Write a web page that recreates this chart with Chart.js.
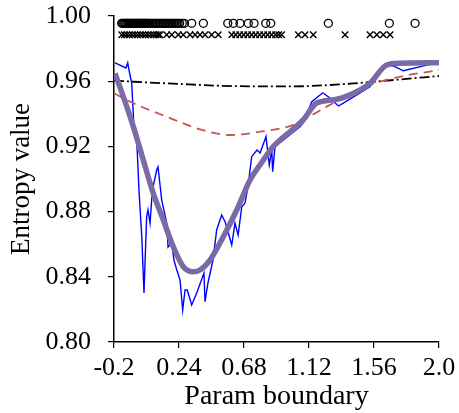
<!DOCTYPE html>
<html>
<head>
<meta charset="utf-8">
<script src="https://cdn.jsdelivr.net/npm/chart.js@4.4.1/dist/chart.umd.min.js"></script>
<style>
  html, body { margin: 0; padding: 0; background: #fff; }
  #wrap { width: 459px; height: 413px; }
</style>
</head>
<body>
<div id="wrap"><canvas id="chart" width="459" height="413"></canvas></div>
<script>
// Tick positions and labels
const xTicks = [-0.2, 0.24, 0.68, 1.12, 1.56, 2.0];
const xTickLabels = ['-0.2', '0.24', '0.68', '1.12', '1.56', '2.0'];
const yTicks = [0.80, 0.84, 0.88, 0.92, 0.96, 1.00];
const yTickLabels = ['0.80', '0.84', '0.88', '0.92', '0.96', '1.00'];

// Raw entropy curve (blue)
const rawX = [-0.193, -0.119, -0.107, -0.092, -0.080, -0.065, -0.051, -0.042, -0.031, -0.012,
  0.003, 0.021, 0.030, 0.044, 0.055, 0.064, 0.089, 0.098, 0.123, 0.157,
  0.166, 0.191, 0.206, 0.225, 0.247, 0.265, 0.281, 0.296, 0.326, 0.360,
  0.409, 0.416, 0.436, 0.470, 0.495, 0.529, 0.552, 0.597, 0.619, 0.640,
  0.665, 0.687, 0.707, 0.732, 0.768, 0.789, 0.829, 0.851, 0.868, 0.874,
  0.890, 1.059, 1.080, 1.139, 1.213, 1.262, 1.319, 1.352, 1.466, 1.533,
  1.556, 1.635, 1.702, 1.759, 1.917, 2.0];
const rawY = [0.9713, 0.9681, 0.9713, 0.9638, 0.9589, 0.9319, 0.9301, 0.9160, 0.8933, 0.8646,
  0.8301, 0.8769, 0.8810, 0.8730, 0.8871, 0.8951, 0.9055, 0.9074, 0.8871, 0.8730,
  0.8583, 0.8607, 0.8503, 0.8442, 0.8380, 0.8196, 0.8319, 0.8319, 0.8227, 0.8301,
  0.8423, 0.8247, 0.8362, 0.8503, 0.8687, 0.8779, 0.8738, 0.8595, 0.8730, 0.8656,
  0.8830, 0.8853, 0.8953, 0.9137, 0.9178, 0.9160, 0.9260, 0.9086, 0.9178, 0.9045,
  0.9198, 0.9321, 0.9344, 0.9474, 0.9529, 0.9497, 0.9448, 0.9466, 0.9528, 0.9566,
  0.9597, 0.9706, 0.9689, 0.9664, 0.9699, 0.9713];

// Smoothed curve (purple)
const smoothX = [-0.193, -0.137, -0.069, -0.002, 0.066, 0.134, 0.201, 0.269, 0.337, 0.382,
  0.450, 0.540, 0.631, 0.721, 0.788, 0.877, 0.924, 1.080, 1.172, 1.308,
  1.466, 1.533, 1.646, 1.736, 2.0];
const smoothY = [0.9648, 0.9505, 0.9321, 0.9117, 0.8912, 0.8748, 0.8585, 0.8462, 0.8431, 0.8442,
  0.8503, 0.8646, 0.8810, 0.8994, 0.9086, 0.9198, 0.9239, 0.9362, 0.9466, 0.9489,
  0.9546, 0.9587, 0.9699, 0.9710, 0.9713];

// Quadratic fit (red dashed)
const fitX = [-0.2, -0.07, 0.157, 0.382, 0.585, 0.788, 1.01, 1.24, 1.47, 1.69, 2.0];
const fitY = [0.9526, 0.9466, 0.9382, 0.9305, 0.9270, 0.9290, 0.9331, 0.9444, 0.9556, 0.9618, 0.9669];

// Baseline (black dash-dot)
const baseX = [-0.2, 0.2, 0.6, 1.0, 1.4, 1.7, 2.0];
const baseY = [0.9603, 0.9585, 0.9570, 0.9568, 0.9585, 0.9608, 0.9632];

// Marker rows along the top
const circleX = [-0.148, -0.141, -0.134, -0.127, -0.120, -0.113, -0.106, -0.099, -0.092, -0.085,
  -0.078, -0.071, -0.064, -0.057, -0.050, -0.043, -0.036, -0.029, -0.022, -0.015,
  -0.008, -0.001, 0.006, 0.013, 0.020, 0.027, 0.034, 0.044, 0.054, 0.064,
  0.074, 0.084, 0.094, 0.104, 0.114, 0.124, 0.134, 0.144, 0.154, 0.164,
  0.174, 0.184, 0.194, 0.204, 0.214, 0.224, 0.234, 0.244, 0.262, 0.276,
  0.326, 0.405, 0.570, 0.608, 0.653, 0.709, 0.748, 0.827, 0.861, 1.251,
  1.664, 1.838];
const circleY = 0.9955;
const crossX = [-0.148, -0.130, -0.112, -0.094, -0.076, -0.058, -0.040, -0.022, -0.004, 0.014,
  0.032, 0.050, 0.068, 0.086, 0.100, 0.111, 0.157, 0.191, 0.235, 0.269,
  0.315, 0.349, 0.382, 0.416, 0.461, 0.506, 0.597, 0.624, 0.651, 0.678,
  0.705, 0.732, 0.759, 0.786, 0.813, 0.840, 0.867, 0.894, 0.915, 0.935,
  1.048, 1.093, 1.149, 1.364, 1.533, 1.579, 1.623, 1.669];
const crossY = 0.9885;

const pts = (xs, ys) => xs.map((x, i) => ({ x, y: Array.isArray(ys) ? ys[i] : ys }));

const serif = "'Liberation Serif', 'Times New Roman', 'DejaVu Serif', serif";

// keep the plot box fixed: no extra room for edge labels
function noEdgePad(s) {
  s.paddingTop = 0; s.paddingBottom = 0; s.paddingLeft = 0; s.paddingRight = 0;
}

new Chart(document.getElementById('chart'), {
  type: 'scatter',
  data: {
    datasets: [
      { data: pts(circleX, circleY), showLine: false, pointStyle: 'circle', pointRadius: 4,
        borderColor: '#000', borderWidth: 1.3, backgroundColor: 'rgba(0,0,0,0)', order: 0 },
      { data: pts(crossX, crossY), showLine: false, pointStyle: 'crossRot', pointRadius: 4.5,
        borderColor: '#000', borderWidth: 1.4, order: 1 },
      { data: pts(smoothX, smoothY), showLine: true, borderColor: '#7b6aa5', borderWidth: 5.5,
        pointRadius: 0, cubicInterpolationMode: 'monotone', order: 2 },
      { data: pts(fitX, fitY), showLine: true, borderColor: '#c4574e', borderWidth: 1.8,
        borderDash: [9, 6], pointRadius: 0, cubicInterpolationMode: 'monotone', order: 3 },
      { data: pts(baseX, baseY), showLine: true, borderColor: '#000', borderWidth: 1.8,
        borderDash: [10, 3, 2, 3], pointRadius: 0, cubicInterpolationMode: 'monotone', order: 4 },
      { data: pts(rawX, rawY), showLine: true, borderColor: '#0000ff', borderWidth: 1.4,
        pointRadius: 0, tension: 0, order: 5 }
    ]
  },
  options: {
    responsive: false,
    animation: false,
    layout: { padding: { left: 0, top: 16, right: 20, bottom: 0 } },
    plugins: { legend: { display: false }, tooltip: { enabled: false } },
    scales: {
      x: {
        type: 'linear', min: -0.2, max: 2.0,
        afterFit: s => { s.height = 71; noEdgePad(s); },
        afterBuildTicks: s => { s.ticks = xTicks.map(v => ({ value: v })); },
        grid: { drawOnChartArea: false, tickLength: 6, color: '#000', lineWidth: 1.2 },
        border: { display: true, color: '#000', width: 1.5 },
        ticks: { color: '#000', padding: 5, maxRotation: 0, autoSkip: false,
          font: { family: serif, size: 26 },
          callback: (v, i) => xTickLabels[i] },
        title: { display: true, text: 'Param boundary', color: '#000',
          font: { family: serif, size: 28 }, padding: { top: 0, bottom: 0 } }
      },
      y: {
        type: 'linear', min: 0.8, max: 1.0,
        afterFit: s => { s.width = 114; noEdgePad(s); },
        afterBuildTicks: s => { s.ticks = yTicks.map(v => ({ value: v })); },
        grid: { drawOnChartArea: false, tickLength: 6, color: '#000', lineWidth: 1.2 },
        border: { display: true, color: '#000', width: 1.5 },
        ticks: { color: '#000', padding: 17, autoSkip: false,
          font: { family: serif, size: 26 },
          callback: (v, i) => yTickLabels[i] },
        title: { display: true, text: 'Entropy value', color: '#000',
          font: { family: serif, size: 27 }, padding: { top: 6, bottom: 0 } }
      }
    }
  }
});
</script>
</body>
</html>
